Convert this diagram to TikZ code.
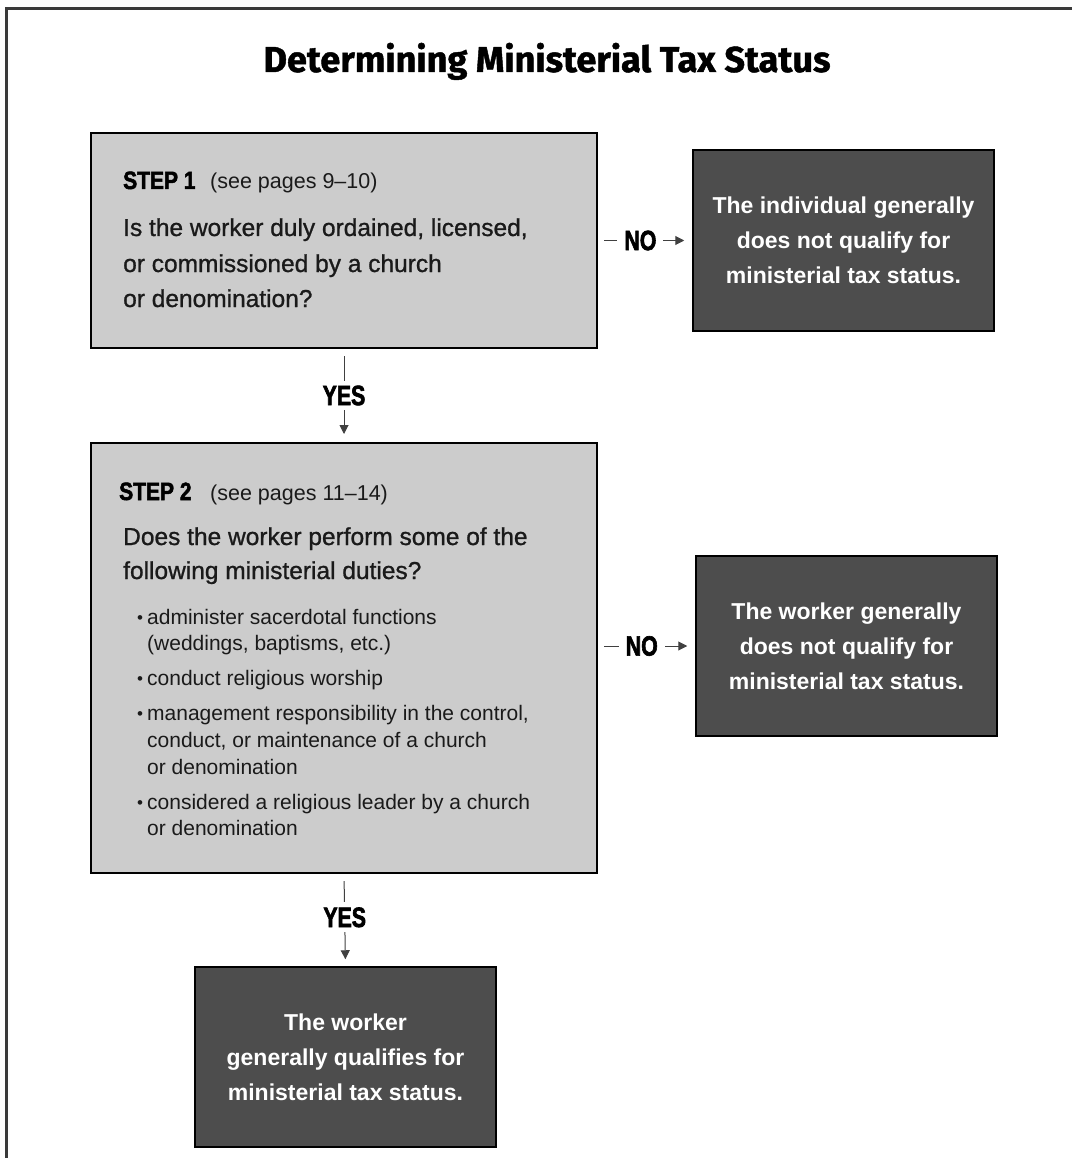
\documentclass[tikz,border=0pt]{standalone}
\usepackage{fontspec}
\usepackage{graphicx}
\setmainfont{Liberation Sans}
\newfontfamily\titlefont[FakeBold=1.2]{Fira Sans}
\newfontfamily\heavyfont[FakeStretch=0.76,FakeBold=2.2]{Liberation Sans}
\newfontfamily\stepfont[FakeStretch=0.84,FakeBold=2]{Liberation Sans}
\newfontfamily\medfont[FakeBold=1]{Liberation Sans}
\usetikzlibrary{arrows.meta}
\definecolor{stepgray}{HTML}{CCCCCC}
\definecolor{nogray}{HTML}{4D4D4D}
\definecolor{txt}{HTML}{1A1A1A}
\definecolor{frame}{HTML}{3A3A3A}
\newcommand{\bul}{\makebox[10pt][l]{\raisebox{1pt}{\fontsize{17}{17}\selectfont •}}}
\begin{document}
\begin{tikzpicture}[x=1pt,y=-1pt,
  stepbox/.style={draw=black, line width=2pt, fill=stepgray, minimum width=506pt, inner sep=0pt},
  nobox/.style={draw=black, line width=1.5pt, fill=nogray, text=white, minimum width=301pt,
    minimum height=181pt, align=center, inner sep=0pt,
    font=\bfseries\fontsize{23}{35}\selectfont},
  txtline/.style={anchor=base west, inner sep=0pt, text=txt},
  steplbl/.style={txtline, text=black, font=\stepfont\bfseries\fontsize{25}{25}\selectfont},
  pagelbl/.style={txtline, font=\fontsize{21.5}{21.5}\selectfont},
  qline/.style={txtline, font=\medfont\fontsize{24.5}{24.5}\selectfont},
  bline/.style={txtline, font=\fontsize{21}{21}\selectfont},
  conn/.style={draw=black!75, line width=1pt, -{Triangle[length=9pt,width=9pt]},
    shorten <=6pt, shorten >=8pt},
  choice/.style={fill=white, text=black, inner ysep=5pt, inner xsep=7pt,
    font=\heavyfont\bfseries\fontsize{28}{28}\selectfont}
]
\useasboundingbox (0,0) rectangle (1072,1158);
\draw[frame, line width=2.5pt] (6.5,1158) -- (6.5,8.5) -- (1072,8.5);

\node[anchor=base, inner sep=0pt, font=\titlefont\bfseries\fontsize{36}{36}\selectfont] (title) at (547,72)
  {\resizebox{567pt}{\height}{Determining Ministerial Tax Status}};

% Step 1
\node[stepbox, minimum height=215pt] (s1) at (344,240.5) {};
\node[steplbl] (s1h) at (123,189) {STEP 1};
\node[pagelbl] (s1p) at (210,189) {(see pages 9–10)};
\node[qline] (s1q1) at (123,236) {Is the worker duly ordained, licensed,};
\node[qline] (s1q2) at (123,272) {or commissioned by a church};
\node[qline] (s1q3) at (123,307) {or denomination?};

% Step 2
\node[stepbox, minimum height=430pt] (s2) at (344,658) {};
\node[steplbl] (s2h) at (119,500) {STEP 2};
\node[pagelbl] (s2p) at (210,500) {(see pages 11–14)};
\node[qline] (s2q1) at (123,545) {Does the worker perform some of the};
\node[qline] (s2q2) at (123,579) {following ministerial duties?};
\node[bline] (b1a) at (137,624) {\bul administer sacerdotal functions};
\node[bline] (b1b) at (147,650) {(weddings, baptisms, etc.)};
\node[bline] (b2a) at (137,685) {\bul conduct religious worship};
\node[bline] (b3a) at (137,720) {\bul management responsibility in the control,};
\node[bline] (b3b) at (147,747) {conduct, or maintenance of a church};
\node[bline] (b3c) at (147,774) {or denomination};
\node[bline] (b4a) at (137,809) {\bul considered a religious leader by a church};
\node[bline] (b4b) at (147,835) {or denomination};

% Outcome boxes
\node[nobox] (n1) at (843.5,240.5) {The individual generally\\does not qualify for\\ministerial tax status.};
\node[nobox, minimum height=180pt] (n2) at (846.5,646) {The worker generally\\does not qualify for\\ministerial tax status.};
\node[nobox, minimum height=180pt] (f) at (345.5,1057) {The worker\\generally qualifies for\\ministerial tax status.};

% Connectors
\draw[conn] (s1.east) -- node[choice, pos=0.45] (no1) {NO} (n1.west);
\draw[conn] (s2.east |- n2.west) -- node[choice, pos=0.45] (no2) {NO} (n2.west);
\draw[conn, shorten <=7pt] (s1.south) -- node[choice, inner xsep=3pt] (yes1) {YES} (s2.north);
\draw[conn, shorten <=7pt, shorten >=7pt] (s2.south) -- node[choice, inner xsep=3pt, pos=0.47] (yes2) {YES} (f.north);
\end{tikzpicture}
\end{document}
